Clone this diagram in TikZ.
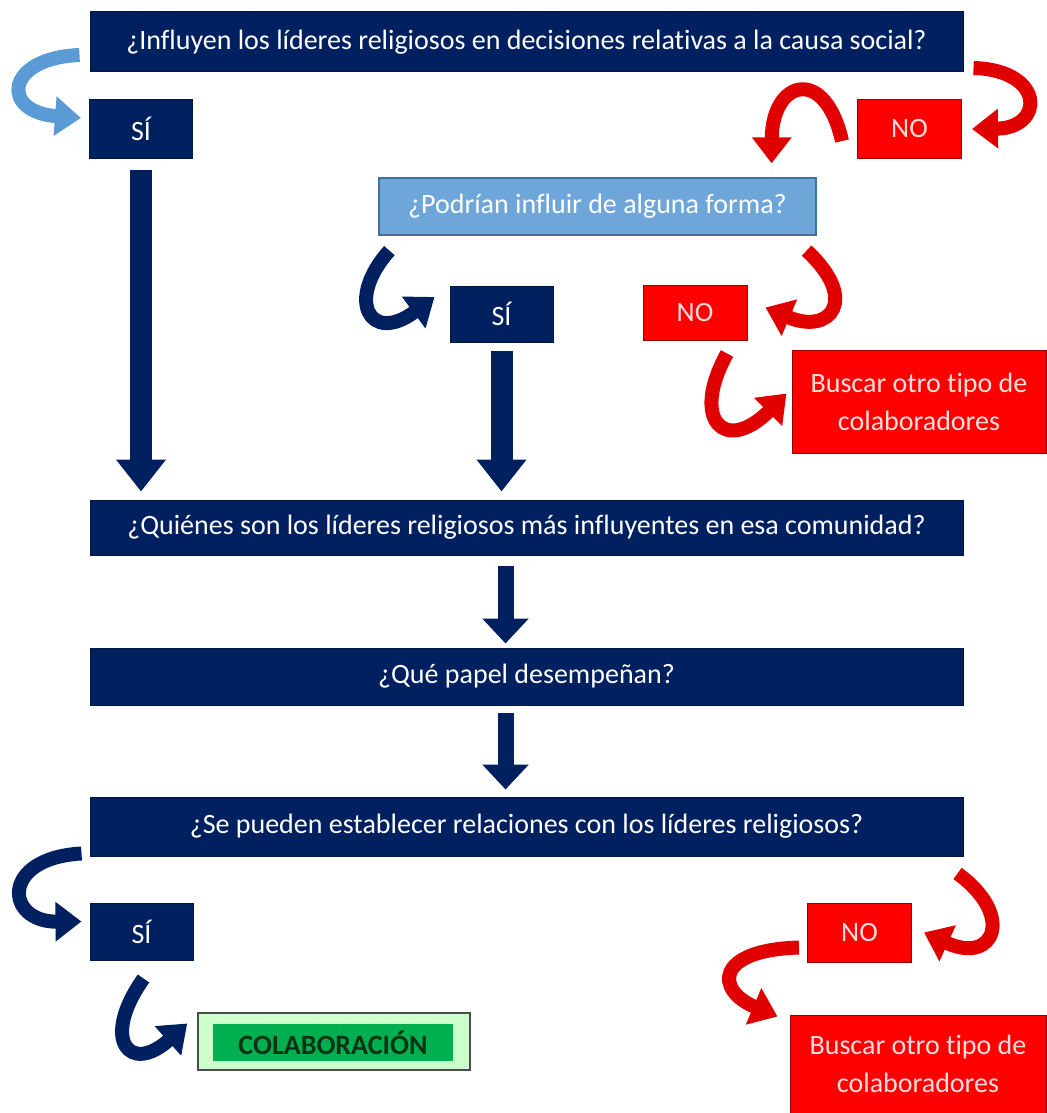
\documentclass[tikz,border=0pt]{standalone}
\usepackage{fontspec}
\setmainfont{Carlito}[Ligatures=NoCommon]
\usetikzlibrary{arrows.meta, positioning, calc}
\definecolor{navyblue}{RGB}{0,32,96}
\definecolor{skyblue}{RGB}{111,166,218}
\definecolor{skyedge}{RGB}{65,113,156}
\definecolor{arrowblue}{RGB}{91,155,213}
\definecolor{brightred}{RGB}{255,0,0}
\definecolor{darkred}{RGB}{150,0,0}
\definecolor{arrowred}{RGB}{225,0,0}
\definecolor{searchtext}{RGB}{255,222,222}
\definecolor{okgreen}{RGB}{0,176,80}
\definecolor{mintgreen}{RGB}{204,255,204}
\definecolor{okgreentext}{RGB}{10,50,20}

\begin{document}
\begin{tikzpicture}[x=0.5pt, y=-0.5pt, every node/.style={font=\fontsize{14}{17}\selectfont},
    navybox/.style={draw=navyblue!70!black, line width=0.5pt, fill=navyblue, text=white,
                    inner sep=0pt, minimum height=29pt},
    question/.style={navybox, minimum width=436.5pt},
    sibox/.style={navybox, minimum width=51.5pt},
    nobox/.style={draw=darkred, line width=0.5pt, fill=brightred, text=searchtext,
                  inner sep=0pt, minimum width=52pt, minimum height=28.5pt},
    searchbox/.style={draw=darkred, line width=0.5pt, fill=brightred, text=searchtext,
                      align=center, inner sep=0pt, minimum width=127pt,
                      font=\fontsize{14}{19}\selectfont},
    curvearrow/.style={line width=7pt, -{Triangle[width=19pt,length=13pt]}},
    downarrow/.style={navyblue, line width=11pt, -{Triangle[width=24pt,length=16pt]}},
    smallarrow/.style={navyblue, line width=8pt, -{Triangle[width=22.5pt,length=12.5pt]}}]
  \useasboundingbox (0,0) rectangle (1046,1113);

  % questions
  \node[question, minimum height=30pt] (q1) at (526.5,42) {¿Influyen los líderes religiosos en decisiones relativas a la causa social?};
  \node[sibox] (si1) at (141,129) {SÍ};
  \node[nobox, minimum height=29pt] (no1) at (909.5,129) {NO};
  \node[draw=skyedge, line width=0.6pt, fill=skyblue, text=white, inner sep=0pt,
        minimum width=218.5pt, minimum height=28.5pt] (q2) at (597.5,206.5) {¿Podrían influir de alguna forma?};
  \node[sibox, minimum height=28pt] (si2) at (501.5,314) {SÍ};
  \node[nobox, minimum height=27.5pt] (no2) at (695,312.5) {NO};
  \node[searchbox, minimum height=51.5pt] (busc1) at (919,401.5) {Buscar otro tipo de\\colaboradores};
  \node[question, minimum height=27.5pt] (q3) at (526.5,527.5) {¿Quiénes son los líderes religiosos más influyentes en esa comunidad?};
  \node[question, minimum height=28.5pt] (q4) at (526.5,676.5) {¿Qué papel desempeñan?};
  \node[question, minimum height=29.5pt] (q5) at (526.5,826.5) {¿Se pueden establecer relaciones con los líderes religiosos?};
  \node[sibox, minimum height=28.5pt] (si3) at (141.5,931.5) {SÍ};
  \node[nobox, minimum height=29.5pt] (no3) at (859.5,932.5) {NO};
  \node[draw=black!70, line width=0.8pt, fill=mintgreen, inner sep=0pt,
        minimum width=136pt, minimum height=28.5pt] (colabbg) at (334,1041.5) {};
  \node[fill=okgreen, text=okgreentext, inner sep=0pt, minimum width=120pt,
        minimum height=18.5pt, font=\fontsize{14}{17}\selectfont\bfseries] (colab) at (333,1042.5) {COLABORACIÓN};
  \node[searchbox, minimum width=128pt, minimum height=49pt] (busc2) at (918,1064) {Buscar otro tipo de\\colaboradores};

  % straight arrows
  \draw[downarrow, shorten <=5.5pt, shorten >=4pt] (si1.south) -- (si1.south |- q3.north);
  \draw[downarrow, shorten <=4pt, shorten >=4pt] (si2.south) -- (si2.south |- q3.north);
  \draw[smallarrow, shorten <=5pt, shorten >=2pt] ($(q3.south)+(-21,0)$) -- ($(q4.north)+(-21,0)$);
  \draw[smallarrow, shorten <=3.5pt, shorten >=3.5pt] ($(q4.south)+(-21,0)$) -- ($(q5.north)+(-21,0)$);

  % curved arrows
  \draw[curvearrow, arrowblue] ($(q1.west)+(-10,13)$) .. controls (5,58) and (0,112) .. ($(si1.west)+(-8,-11)$);
  \draw[curvearrow, arrowred] ($(q1.east)+(10,26)$) .. controls (1045,70) and (1045,128) .. ($(no1.east)+(10,0)$);
  \draw[curvearrow, arrowred] ($(no1.west)+(-15,12)$) .. controls (825,65) and (772,80) .. ($(q2.north east)+(-45,-14)$);
  \draw[curvearrow, navyblue] ($(q2.south west)+(11,15)$) .. controls (345,300) and (370,345) .. ($(si2.west)+(-15,-17)$);
  \draw[curvearrow, arrowred] ($(q2.south east)+(-10,15)$) .. controls (860,300) and (830,335) .. ($(no2.east)+(18,-5)$);
  \draw[curvearrow, arrowred] ($(no2.south)+(32,13)$) .. controls (690,420) and (725,455) .. ($(busc1.west)+(-5,-8)$);
  \draw[curvearrow, navyblue] ($(q5.west)+(-8,27)$) .. controls (0,858) and (5,922) .. ($(si3.west)+(-8,-10)$);
  \draw[curvearrow, navyblue] ($(si3.south)+(2,18)$) .. controls (100,1040) and (130,1075) .. ($(colabbg.west)+(-10,-18)$);
  \draw[curvearrow, arrowred] ($(q5.south east)+(-6,17)$) .. controls (1015,915) and (995,965) .. ($(no3.east)+(12,0)$);
  \draw[curvearrow, arrowred] ($(no3.west)+(-8,15)$) .. controls (715,950) and (715,990) .. ($(busc2.north west)+(-12,2)$);
\end{tikzpicture}
\end{document}
